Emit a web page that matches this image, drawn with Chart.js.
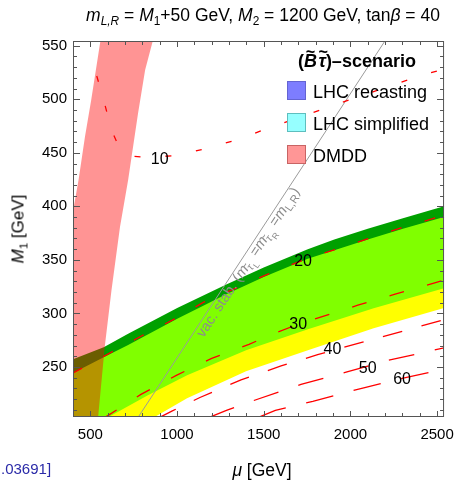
<!DOCTYPE html>
<html>
<head>
<meta charset="utf-8">
<script src="https://cdn.jsdelivr.net/npm/chart.js@4.4.1/dist/chart.umd.min.js"></script>
<style>
  body { margin: 0; background: #fff; }
  #wrap { position: relative; width: 463px; height: 480px; font-family: "Liberation Sans", Arial, sans-serif; color: #000; }
  #chart { position: absolute; left: 0; top: 0; }
  .txt { position: absolute; white-space: nowrap; line-height: 1; }
  .sub { font-size: 0.68em; position: relative; top: 0.32em; }
  .box { position: absolute; left: 287px; width: 17px; height: 17px; border: 1.5px solid; }
  .tl { position: relative; display: inline-block; font-style: italic; }
  .tl .tilde { position: absolute; left: 0; right: 0; top: -0.55em; text-align: center; font-style: normal; font-size: 0.9em; }
</style>
</head>
<body>
<div id="wrap">
  <canvas id="chart" width="463" height="480"></canvas>

  <div class="txt" style="left:263px; top:7px; font-size:17.5px; transform:translateX(-50%)"><i>m</i><span class="sub"><i>L,R</i></span> = <i>M</i><span class="sub">1</span>+50 GeV, <i>M</i><span class="sub">2</span> = 1200 GeV, tan<i>β</i> = 40</div>

  <div class="txt" style="left:18px; top:229px; font-size:17px; transform:translate(-50%,-50%) rotate(-90deg)"><i>M</i><span class="sub">1</span> [GeV]</div>
  <div class="txt" style="left:262px; top:462px; font-size:17.5px; transform:translateX(-50%)"><i>μ</i> [GeV]</div>
  <div class="txt" style="left:1px; top:461px; font-size:15px; color:#2a2aa8">.03691]</div>

  <div class="txt" style="left:298px; top:52px; font-size:18px; font-weight:bold">(<span class="tl">B<span class="tilde">~</span></span>&#8202;<span class="tl">τ<span class="tilde">~</span></span>)–scenario</div>
  <div class="box" style="top:81px; background:#7d7dff; border-color:#6464d2"></div>
  <div class="txt" style="left:313px; top:82.7px; font-size:18px">LHC recasting</div>
  <div class="box" style="top:113px; background:#96ffff; border-color:#5ebebe"></div>
  <div class="txt" style="left:313px; top:115px; font-size:18px">LHC simplified</div>
  <div class="box" style="top:145px; background:#ff9696; border-color:#c86464"></div>
  <div class="txt" style="left:313px; top:147px; font-size:18px">DMDD</div>
</div>

<script>
const muTicks = [500, 1000, 1500, 2000, 2500];
const m1Ticks = [250, 300, 350, 400, 450, 500, 550];

// region edges, mu / M1 in GeV
const bandTopMu = [396, 577, 718, 1001, 1284, 1500, 1754, 1907, 2100, 2303, 2560];
const bandTopM1 = [257, 268.5, 281, 305, 327, 343, 360, 369, 379, 389, 401];

const limeTopMu = [396, 577, 718, 1001, 1284, 1500, 1754, 1907, 2100, 2303, 2560];
const limeTopM1 = [244, 259, 270.5, 295, 318, 334, 351, 359, 369, 379, 391];

const yellowTopMu = [590, 605, 832, 1058, 1398, 1755, 2134, 2560];
const yellowTopM1 = [195, 203.3, 223.6, 242.2, 265.6, 285.2, 304.9, 324.5];

const yellowLowMu = [850, 871, 1058, 1398, 1755, 2134, 2560];
const yellowLowM1 = [195, 203.3, 220.8, 246, 265.6, 286.2, 306];

// DMDD band, outline going round
const dmddMu = [568, 558, 505, 469, 432, 396, 370, 370, 540, 545, 583, 622, 671, 718, 775, 816, 860, 877];
const dmddM1 = [565, 554.4, 499.3, 465, 424.5, 391.8, 365, 195, 195, 203.3, 268.7, 321.7, 380.8, 424.5, 486.8, 527.3, 554.4, 565];

// vacuum stability line
const vacMu = [743, 2242];
const vacM1 = [195, 565];

// contours
const c10Mu = [537, 577, 622, 668, 747, 826, 1001, 1183, 1358, 1528, 1873, 2043, 2213, 2394, 2560];
const c10M1 = [521.7, 499.3, 471.2, 454.4, 446.9, 445.5, 447.6, 454.6, 462.8, 473.1, 492.7, 502.1, 511.7, 521.4, 529.3];
const c20Mu = [380, 396, 588, 792, 973, 1154, 1511, 1726, 1919, 2094, 2292, 2560];
const c20M1 = [243, 244.1, 260.9, 278.7, 293.7, 310.5, 335.8, 349.8, 360.1, 369.4, 379.8, 392.6];
const c30Mu = [580, 594, 792, 996, 1200, 1415, 1579, 1698, 2043, 2258, 2560];
const c30M1 = [202, 203.9, 224.4, 242.2, 258.1, 271.2, 282.4, 289.9, 307.7, 318, 332];
const c40Mu = [890, 900, 973, 1132, 1369, 1600, 1811, 2065, 2314, 2560];
const c40M1 = [202, 202.9, 209, 221.5, 238, 251, 261.5, 273, 284, 295];
const c50Mu = [1190, 1200, 1285, 1421, 1715, 1970, 2218, 2479, 2560];
const c50M1 = [203, 203.9, 209.5, 217.5, 233.8, 245, 256.3, 265.6, 268.6];
const c60Mu = [1475, 1483, 1567, 1783, 2077, 2298, 2456, 2560];
const c60M1 = [203.3, 203.9, 209.5, 217.9, 230.6, 239.4, 245, 248.5];

const labelText = ['10', '20', '30', '40', '50', '60'];
const labelMu = [900, 1727, 1699, 1896, 2100, 2298];
const labelM1 = [445, 349.7, 290.6, 267.5, 249.7, 239.4];

const vacLabelMu = 1095;
const vacLabelM1 = 283;

const xy = (xs, ys) => xs.map((v, i) => ({x: v, y: ys[i]}));

function area(xs, ys, color, order) {
  return {
    data: xy(xs, ys), showLine: true, fill: 'start', backgroundColor: color,
    borderWidth: 0, pointRadius: 0, order: order
  };
}

function contour(xs, ys, dash) {
  return {
    data: xy(xs, ys), showLine: true, fill: false, borderColor: '#ff0000',
    borderWidth: 1.3, borderDash: dash, pointRadius: 0, order: 1
  };
}

const frameTicks = {
  id: 'frameTicks',
  afterDatasetsDraw(chart) {
    const {ctx, chartArea: a, scales: {x, y}} = chart;
    ctx.save();
    ctx.strokeStyle = '#555';
    ctx.lineWidth = 1;
    ctx.beginPath();
    for (let v = 500; v < 2540; v += 100) {
      const px = Math.round(x.getPixelForValue(v)) + 0.5;
      const len = v % 500 === 0 ? 6 : 4;
      ctx.moveTo(px, a.bottom); ctx.lineTo(px, a.bottom - len);
      ctx.moveTo(px, a.top); ctx.lineTo(px, a.top + len);
    }
    for (let v = 210; v < 555; v += 10) {
      const py = Math.round(y.getPixelForValue(v)) + 0.5;
      const len = v % 50 === 0 ? 7 : 4;
      ctx.moveTo(a.left, py); ctx.lineTo(a.left + len, py);
      ctx.moveTo(a.right, py); ctx.lineTo(a.right - len, py);
    }
    ctx.stroke();
    ctx.strokeRect(a.left + 0.5, a.top + 0.5, a.right - a.left - 1, a.bottom - a.top - 1);

    // contour labels
    ctx.fillStyle = '#000';
    ctx.font = '16px "Liberation Sans", Arial, sans-serif';
    ctx.textAlign = 'center';
    ctx.textBaseline = 'middle';
    labelText.forEach((t, i) => {
      ctx.fillText(t, x.getPixelForValue(labelMu[i]), y.getPixelForValue(labelM1[i]) + 1);
    });

    // text along the vacuum stability line
    const x0 = x.getPixelForValue(vacMu[0]), y0 = y.getPixelForValue(vacM1[0]);
    const x1 = x.getPixelForValue(vacMu[1]), y1 = y.getPixelForValue(vacM1[1]);
    ctx.translate(x.getPixelForValue(vacLabelMu), y.getPixelForValue(vacLabelM1));
    ctx.rotate(Math.atan2(y1 - y0, x1 - x0));
    ctx.translate(0, 12);
    ctx.fillStyle = '#8c8c8c';
    ctx.textAlign = 'left';
    ctx.textBaseline = 'alphabetic';
    const fam = '"Liberation Sans", Arial, sans-serif';
    const parts = [
      ['vac. stab. (', '', 14.5, 0], ['m', 'italic ', 14.5, 0], ['τ̃', 'italic ', 11, 3.5], ['L', '', 8.5, 7],
      [' =', '', 14.5, 0], ['m', 'italic ', 14.5, 0], ['τ̃', 'italic ', 11, 3.5], ['R', '', 8.5, 7],
      [' =', '', 14.5, 0], ['m', 'italic ', 14.5, 0], ['L,R', '', 11, 3.5], [')', '', 14.5, 0]
    ];
    let cx = 0;
    parts.forEach(([t, st, sz, dy]) => {
      ctx.font = st + sz + 'px ' + fam;
      ctx.fillText(t, cx, dy);
      cx += ctx.measureText(t).width + (sz < 12 ? 0.5 : 0);
    });
    ctx.restore();
  }
};

new Chart(document.getElementById('chart'), {
  type: 'scatter',
  data: {
    datasets: [
      area(bandTopMu, bandTopM1, '#00a000', 10),
      area(limeTopMu, limeTopM1, '#80ff00', 9),
      area(yellowTopMu, yellowTopM1, '#ffff00', 8),
      area(yellowLowMu, yellowLowM1, '#ffffff', 7),
      {
        data: xy(dmddMu, dmddM1), showLine: true, fill: 'shape',
        backgroundColor: 'rgba(255, 0, 0, 0.42)', borderWidth: 0, pointRadius: 0, order: 6
      },
      {
        data: xy(vacMu, vacM1), showLine: true, fill: false, borderColor: '#9a9a9a',
        borderWidth: 1, pointRadius: 0, order: 5
      },
      contour(c10Mu, c10M1, [6, 25]),
      contour(c20Mu, c20M1, [11, 24]),
      contour(c30Mu, c30M1, [15, 24]),
      contour(c40Mu, c40M1, [20, 20]),
      contour(c50Mu, c50M1, [26, 21]),
      contour(c60Mu, c60M1, [28, 21])
    ]
  },
  options: {
    responsive: false,
    animation: false,
    devicePixelRatio: 1,
    events: [],
    layout: { padding: { top: 41, right: 11, left: 0, bottom: 0 } },
    plugins: { legend: { display: false }, tooltip: { enabled: false } },
    elements: { line: { tension: 0 } },
    scales: {
      x: {
        type: 'linear', min: 400, max: 2540,
        afterBuildTicks: s => { s.ticks = muTicks.map(v => ({value: v})); },
        afterFit: s => { s.height = 63; },
        grid: { display: false, drawTicks: false },
        border: { display: false },
        ticks: { color: '#000', padding: 9, maxRotation: 0, font: { family: 'Liberation Sans', size: 15 }, callback: v => String(v) }
      },
      y: {
        type: 'linear', min: 203.3, max: 554.4,
        afterBuildTicks: s => { s.ticks = m1Ticks.map(v => ({value: v})); },
        afterFit: s => { s.width = 73; },
        grid: { display: false, drawTicks: false },
        border: { display: false },
        ticks: { color: '#000', padding: 6, font: { family: 'Liberation Sans', size: 15 }, callback: v => String(v) }
      }
    }
  },
  plugins: [frameTicks]
});
</script>
</body>
</html>
